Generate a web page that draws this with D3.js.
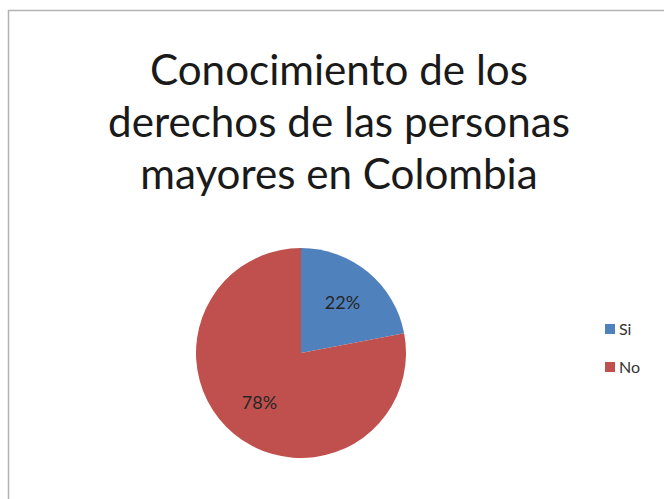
<!DOCTYPE html>
<html>
<head>
<meta charset="utf-8">
<script src="https://cdn.jsdelivr.net/npm/d3@7"></script>
<style>
  html, body { margin: 0; padding: 0; background: #fff; }
  svg { display: block; }
</style>
</head>
<body>
<svg id="chart" width="664" height="499"></svg>
<script>
/* datos */
const categorias = ["Si", "No"];
const valores    = [22, 78];
const colores    = ["#4f81bd", "#c0504d"];
const tituloLineas = ["Conocimiento de los", "derechos de las personas", "mayores en Colombia"];

const W = 664, H = 499;
const svg = d3.select("#chart");
const FONT = "Lato, 'Open Sans', sans-serif";

// marco del gráfico (sale del recorte por la derecha y abajo)
svg.append("rect")
  .attr("x", 8.5).attr("y", 10.5)
  .attr("width", W + 20).attr("height", H + 20)
  .attr("fill", "#fff")
  .attr("stroke", "#b4b4b4")
  .attr("stroke-width", 1.5);

/* ── TÍTULO ─────────────────────────── */
const gTitulo = svg.append("g");
const baseY = [85, 137, 189];
const titulos = gTitulo.selectAll("text")
  .data(tituloLineas)
  .join("text")
  .attr("x", 339)
  .attr("y", (d, i) => baseY[i])
  .attr("text-anchor", "middle")
  .attr("font-family", FONT)
  .attr("font-size", 40)
  .attr("fill", "#1a1a1a")
  .text(d => d);

// ajustar tamaño para que la segunda línea mida ~462px
const anchoRef = titulos.nodes()[1].getComputedTextLength();
titulos.attr("font-size", 40 * 462 / anchoRef);

/* ── TORTA ──────────────────────────── */
const cx = 301, cy = 353, r = 105;
const pie = d3.pie().sort(null).value(d => d)(valores);
const arc = d3.arc().innerRadius(0).outerRadius(r);
const color = d3.scaleOrdinal().domain(categorias).range(colores);

const gPie = svg.append("g").attr("transform", `translate(${cx},${cy})`);
gPie.selectAll("path")
  .data(pie)
  .join("path")
  .attr("d", arc)
  .attr("fill", (d, i) => color(categorias[i]));

// etiquetas de porcentaje
const arcLabel = d3.arc().innerRadius(r * 0.62).outerRadius(r * 0.62);
gPie.selectAll("text")
  .data(pie)
  .join("text")
  .attr("transform", d => {
    const [x, y] = arcLabel.centroid(d);
    return `translate(${x},${y})`;
  })
  .attr("text-anchor", "middle")
  .attr("dy", "0.35em")
  .attr("font-family", FONT)
  .attr("font-size", 18)
  .attr("fill", "#262626")
  .text(d => d.data + "%");

/* ── LEYENDA ────────────────────────── */
const yLeyenda = d3.scalePoint().domain(categorias).range([329, 367]);
const gLeg = svg.append("g");
const items = gLeg.selectAll("g")
  .data(categorias)
  .join("g")
  .attr("transform", d => `translate(605,${yLeyenda(d)})`);
items.append("rect")
  .attr("x", 0).attr("y", -5)
  .attr("width", 10).attr("height", 10)
  .attr("fill", d => color(d));
items.append("text")
  .attr("x", 14).attr("dy", "0.36em")
  .attr("font-family", FONT)
  .attr("font-size", 16)
  .attr("fill", "#333")
  .text(d => d);
</script>
</body>
</html>
